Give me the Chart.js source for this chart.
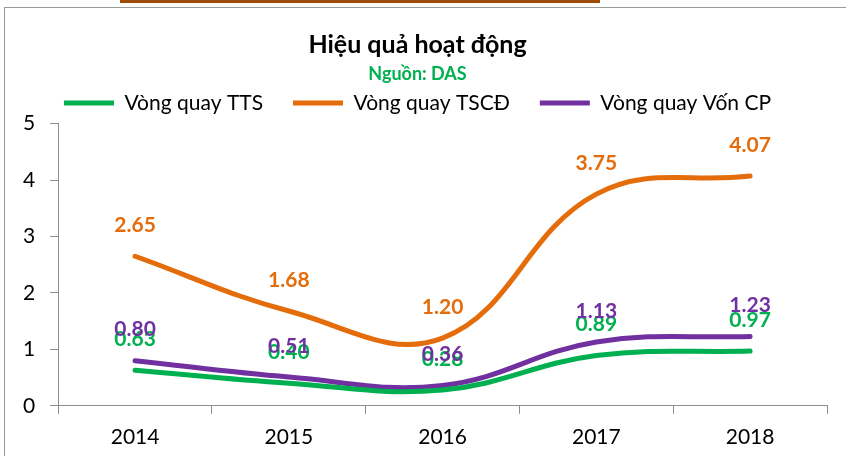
<!DOCTYPE html>
<html>
<head>
<meta charset="utf-8">
<script src="https://cdn.jsdelivr.net/npm/chart.js@4/dist/chart.umd.min.js"></script>
<style>
  html, body { margin: 0; padding: 0; background: #fff; }
  #wrap { position: relative; width: 846px; height: 456px; overflow: hidden; }
  #frame { position: absolute; left: 4px; top: 7px; width: 900px; height: 500px; border: 1.5px solid #9a9a9a; box-sizing: border-box; }
  #bar { position: absolute; left: 120px; top: 0; width: 480px; height: 3px; background: #9C4A06; }
  canvas { position: absolute; left: 0; top: 0; }
</style>
</head>
<body>
<div id="wrap">
  <div id="frame"></div>
  <div id="bar"></div>
  <canvas id="c" width="846" height="456"></canvas>
</div>
<script>
const years = ['2014', '2015', '2016', '2017', '2018'];
const vongQuayTTS = [0.63, 0.40, 0.28, 0.89, 0.97];
const vongQuayTSCD = [2.65, 1.68, 1.20, 3.75, 4.07];
const vongQuayVonCP = [0.80, 0.51, 0.36, 1.13, 1.23];
const yTicks = [0, 1, 2, 3, 4, 5];

const FONT = "Lato, 'Open Sans', sans-serif";
const GREEN = '#00B050', ORANGE = '#E46C0A', PURPLE = '#7030A0';

const labelPlugin = {
  id: 'valueLabels',
  afterDatasetsDraw(chart, args, opts) {
    const ctx = chart.ctx;
    ctx.save();
    ctx.font = "bold 21px " + FONT;
    ctx.textAlign = 'center';
    ctx.textBaseline = 'middle';
    chart.data.datasets.forEach((ds, di) => {
      const meta = chart.getDatasetMeta(di);
      meta.data.forEach((pt, i) => {
        ctx.fillStyle = ds.borderColor;
        ctx.fillText(ds.data[i].toFixed(2), pt.x, pt.y - opts.offset);
      });
    });
    ctx.restore();
  }
};

new Chart(document.getElementById('c'), {
  type: 'line',
  data: {
    labels: years,
    datasets: [
      { label: 'Vòng quay TTS', data: vongQuayTTS, borderColor: GREEN, backgroundColor: GREEN },
      { label: 'Vòng quay TSCĐ', data: vongQuayTSCD, borderColor: ORANGE, backgroundColor: ORANGE },
      { label: 'Vòng quay Vốn CP', data: vongQuayVonCP, borderColor: PURPLE, backgroundColor: PURPLE }
    ]
  },
  options: {
    responsive: false,
    animation: false,
    devicePixelRatio: 1,
    elements: {
      line: { borderWidth: 5, tension: 0.4, borderCapStyle: 'round' },
      point: { radius: 0, hoverRadius: 0 }
    },
    layout: { padding: { top: 18, left: 8, right: 19, bottom: -5 } },
    plugins: {
      title: {
        display: true,
        text: 'Hiệu quả hoạt động',
        color: '#000',
        font: { family: FONT, size: 25, weight: 'bold' },
        padding: { top: 12, bottom: 0 }
      },
      subtitle: {
        display: true,
        text: 'Nguồn: DAS',
        color: GREEN,
        font: { family: FONT, size: 18, weight: 'bold' },
        padding: { top: 3, bottom: -22 }
      },
      legend: {
        display: true,
        labels: {
          color: '#000',
          font: { family: FONT, size: 21 },
          boxWidth: 50,
          boxHeight: 5,
          padding: 30,
          generateLabels(chart) {
            return chart.data.datasets.map((ds, i) => ({
              text: ds.label,
              fillStyle: ds.borderColor,
              strokeStyle: ds.borderColor,
              lineWidth: 0,
              fontColor: '#000',
              hidden: false,
              datasetIndex: i
            }));
          }
        }
      },
      tooltip: { enabled: false },
      valueLabels: { offset: 31 }
    },
    scales: {
      x: {
        offset: true,
        grid: { offset: true, drawOnChartArea: false, drawTicks: true, tickLength: 8, color: '#8c8c8c', lineWidth: 1 },
        border: { display: true, color: '#8c8c8c', width: 1 },
        ticks: { color: '#000', font: { family: FONT, size: 21 }, padding: 11 }
      },
      y: {
        min: 0,
        max: 5,
        afterBuildTicks(scale) { scale.ticks = yTicks.map(v => ({ value: v })); },
        grid: { drawOnChartArea: false, drawTicks: true, tickLength: 8, color: '#8c8c8c', lineWidth: 1 },
        border: { display: true, color: '#8c8c8c', width: 1 },
        ticks: { color: '#000', font: { family: FONT, size: 21 }, padding: 15 }
      }
    }
  },
  plugins: [labelPlugin]
});
</script>
</body>
</html>
